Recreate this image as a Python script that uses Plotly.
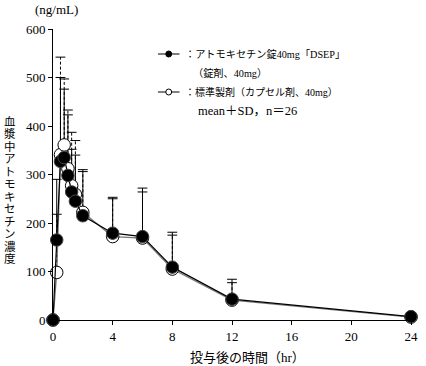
import plotly.graph_objects as go

# ---- data ----
time_hr = [0, 0.25, 0.5, 0.75, 1, 1.25, 1.5, 2, 4, 6, 8, 12, 24]
dsep_mean = [0, 165, 327, 335, 298, 264, 245, 215, 179, 172, 109, 43, 7]
dsep_sd = [0, 125, 173, 141, 125, 88, 95, 95, 74, 100, 72, 41, 5]
ref_mean = [0, 98, 341, 361, 312, 277, 259, 222, 172, 169, 105, 41, 6]
ref_sd = [0, 120, 201, 136, 121, 110, 111, 84, 78, 95, 70, 36, 4]

x_ticks = [0, 4, 8, 12, 16, 20, 24]
y_ticks = [0, 100, 200, 300, 400, 500, 600]

legend_lines = ["：アトモキセチン錠40mg「DSEP」", "（錠剤、40mg）",
                "：標準製剤（カプセル剤、40mg）", "mean＋SD，n＝26"]
y_title = "血漿中アトモキセチン濃度"
x_title = "投与後の時間（hr）"
unit_label = "(ng/mL)"

W, H = 426, 366
L, R, T, B = 53, 8, 29, 46
PW, PH = W - L - R, H - T - B

def px(x):
    return (x - L) / PW

def py(y):
    return 1 - (y - T) / PH

SERIF = "Liberation Serif, Noto Sans CJK JP, serif"

fig = go.Figure()

def err_trace(t, m, s, dash):
    xs, ys, cx, cy = [], [], [], []
    for ti, mi, si in zip(t, m, s):
        if si <= 0:
            continue
        xs += [ti, ti, None]
        ys += [mi, mi + si, None]
        cx.append(ti)
        cy.append(mi + si)
    fig.add_trace(go.Scatter(x=xs, y=ys, mode="lines",
                             line=dict(color="black", width=1, dash=dash),
                             showlegend=False, hoverinfo="skip", cliponaxis=False))
    fig.add_trace(go.Scatter(x=cx, y=cy, mode="markers",
                             marker=dict(symbol="line-ew", size=7,
                                         line=dict(color="black", width=1)),
                             showlegend=False, hoverinfo="skip", cliponaxis=False))

err_trace(time_hr, ref_mean, ref_sd, "3px,2px")
err_trace(time_hr, dsep_mean, dsep_sd, "solid")

fig.add_trace(go.Scatter(x=time_hr, y=ref_mean, mode="lines+markers",
                         line=dict(color="#777777", width=1.3),
                         marker=dict(symbol="circle", size=12.5, color="white",
                                     line=dict(color="black", width=1)),
                         showlegend=False, cliponaxis=False))
fig.add_trace(go.Scatter(x=time_hr, y=dsep_mean, mode="lines+markers",
                         line=dict(color="black", width=1.2),
                         marker=dict(symbol="circle", size=12.5, color="black",
                                     line=dict(color="#444444", width=1)),
                         showlegend=False, cliponaxis=False))

# ---- legend (manual) ----
shapes = []
for yc, filled in [(54, True), (92, False)]:
    shapes.append(dict(type="line", xref="paper", yref="paper",
                       x0=px(160), x1=px(182), y0=py(yc), y1=py(yc),
                       line=dict(color="black", width=1)))
    shapes.append(dict(type="circle", xref="paper", yref="paper",
                       x0=px(168), x1=px(174), y0=py(yc - 3), y1=py(yc + 3),
                       fillcolor="black" if filled else "white",
                       line=dict(color="black", width=1)))

annotations = []
leg_pos = [(186, 54), (194, 73), (186, 92), (199, 111)]
leg_size = [10.2, 10.2, 10.0, 12.5]
for txt, (xl, yc), fs in zip(legend_lines, leg_pos, leg_size):
    annotations.append(dict(text=txt, xref="paper", yref="paper", x=px(xl), y=py(yc),
                            xanchor="left", yanchor="middle", showarrow=False,
                            font=dict(family=SERIF, size=fs, color="black")))

# vertical y title, one character per row (tight line spacing via small base font)
vt = "<br>".join(f"<span style='font-size:11.5px'>{ch}</span>" for ch in y_title)
annotations.append(dict(text=vt, xref="paper", yref="paper", x=px(9), y=py(190),
                        xanchor="center", yanchor="middle", showarrow=False,
                        font=dict(family=SERIF, size=9.6, color="black")))

annotations.append(dict(text=x_title, xref="paper", yref="paper", x=px(251), y=py(357),
                        xanchor="center", yanchor="middle", showarrow=False,
                        font=dict(family=SERIF, size=13, color="black")))
annotations.append(dict(text=unit_label, xref="paper", yref="paper", x=px(33), y=py(9),
                        xanchor="left", yanchor="middle", showarrow=False,
                        font=dict(family=SERIF, size=13, color="black")))

fig.update_layout(
    width=W, height=H,
    margin=dict(l=L, r=R, t=T, b=B, pad=0),
    paper_bgcolor="white", plot_bgcolor="white",
    showlegend=False,
    shapes=shapes, annotations=annotations,
    xaxis=dict(range=[0, 24], tickvals=x_ticks, ticks="outside", ticklen=4,
               tickwidth=1, tickcolor="black", showline=True, linecolor="black",
               linewidth=1, showgrid=False, zeroline=False,
               tickfont=dict(family=SERIF, size=13, color="black")),
    yaxis=dict(range=[0, 600], tickvals=y_ticks, ticks="outside", ticklen=4,
               tickwidth=1, tickcolor="black", showline=True, linecolor="black",
               linewidth=1, showgrid=False, zeroline=False,
               tickfont=dict(family=SERIF, size=13, color="black")),
)

fig.write_html("out.html", config={"displayModeBar": False},
               post_script="document.body.style.margin='0';document.body.style.padding='0';")
